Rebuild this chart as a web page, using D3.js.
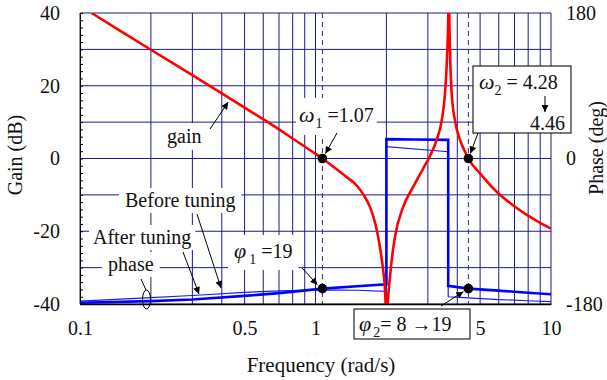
<!DOCTYPE html>
<html>
<head>
<meta charset="utf-8">
<script src="https://cdn.jsdelivr.net/npm/d3@7"></script>
<style>
  html, body { margin: 0; padding: 0; background: #fff; }
  svg { display: block; font-family: "Liberation Serif", "Times New Roman", serif; }
</style>
</head>
<body>
<svg id="chart" width="607" height="380"></svg>
<script>
// ---- Gain curve (dB) ----
const gainFreq = [0.112, 0.15, 0.2, 0.3, 0.4, 0.5, 0.6, 0.8, 1.0, 1.07, 1.187, 1.35, 1.5, 1.6, 1.703, 1.8, 1.879, 1.94, 1.973, 1.992, 2.0, 2.012, 2.072, 2.176, 2.359, 2.602, 2.869, 3.013, 3.271, 3.435, 3.548, 3.628, 3.664, 3.68, 3.70, 3.725, 3.787, 3.911, 4.108, 4.385, 4.46, 4.996, 5.973, 7.03, 8.55, 10];
const gainDb   = [40, 34.9, 29.9, 22.9, 17.9, 14.0, 10.8, 5.5, 1.3, 0, -2.2, -5.0, -7.5, -10.0, -13.3, -18.2, -24.5, -31.0, -36.2, -44, -70, -44, -32.5, -21.5, -13.25, -7.75, -2.7, -0.2, 5.1, 10.4, 18.0, 29.8, 40, 70, 40, 29.8, 18.0, 10.4, 5.1, 1.0, 0, -4.07, -9.57, -13.25, -16.9, -19.3];

// ---- Phase curves (deg) ----
const afterFreq   = [0.1, 0.2, 0.3, 0.5, 0.7, 1.07, 1.5, 2.0, 2.0, 2.6, 3.66, 3.66, 4.46, 6, 8, 10];
const afterPhase  = [-178.5, -176.5, -174.5, -170, -166.5, -161, -158, -155.5, 24, 23.5, 23, -157.5, -161, -163.5, -166, -168];
const beforeFreq  = [0.1, 0.2, 0.3, 0.5, 0.7, 1.07, 1.5, 2.0, 2.0, 3.66, 3.66, 4.28, 6, 8, 10];
const beforePhase = [-176.5, -172, -169.5, -165.5, -163.8, -162.5, -163, -164.5, 14.6, 8.4, -171, -172, -174.5, -176, -177];

// ---- Crossover points ----
const omega1 = 1.07, omega2 = 4.46;
const phi1 = 19, phi2 = 19;

// ---- Tick values ----
const freqTicks  = [0.1, 0.5, 1, 5, 10];
const gainTicks  = [-40, -20, 0, 20, 40];
const phaseTicks = [-180, 0, 180];

const FONT = '"Liberation Serif", "Times New Roman", serif';
const gridColor = "#1b1b8c";
const plot = { left: 80, right: 551, top: 13, bottom: 304 };

const svg = d3.select("#chart");
const x  = d3.scaleLog().domain([0.1, 10]).range([plot.left, plot.right]);
const yG = d3.scaleLinear().domain([-40, 40]).range([plot.bottom, plot.top]);
const yP = d3.scaleLinear().domain([-180, 180]).range([plot.bottom, plot.top]);

const defs = svg.append("defs");
defs.append("clipPath").attr("id", "plotClip")
  .append("rect")
  .attr("x", plot.left).attr("y", plot.top)
  .attr("width", plot.right - plot.left).attr("height", plot.bottom - plot.top + 1);
defs.append("marker").attr("id", "arrow")
  .attr("viewBox", "0 0 10 10").attr("refX", 10).attr("refY", 5)
  .attr("markerWidth", 10).attr("markerHeight", 7)
  .attr("markerUnits", "userSpaceOnUse").attr("orient", "auto")
  .append("path").attr("d", "M0,0L10,5L0,10Z").attr("fill", "#000");

// ---- Grid ----
const grid = svg.append("g");
grid.selectAll("line.v").data(x.ticks()).join("line").attr("class", "v")
  .attr("x1", d => x(d)).attr("x2", d => x(d))
  .attr("y1", plot.top).attr("y2", plot.bottom)
  .attr("stroke", gridColor).attr("stroke-width", 1);
grid.selectAll("line.h").data(d3.range(-40, 41, 10)).join("line").attr("class", "h")
  .attr("x1", plot.left).attr("x2", plot.right)
  .attr("y1", d => yG(d)).attr("y2", d => yG(d))
  .attr("stroke", gridColor).attr("stroke-width", 1);

// Crossover frequency markers
grid.selectAll("line.cross").data([omega1, omega2]).join("line").attr("class", "cross")
  .attr("x1", d => x(d)).attr("x2", d => x(d))
  .attr("y1", plot.top).attr("y2", plot.bottom)
  .attr("stroke", "#2a2a96").attr("stroke-width", 1).attr("stroke-dasharray", "5,4");

// ---- Text labels on white patches ----
const labelBg = svg.append("g");
const labelFg = svg.append("g");

function richText(parent, px, py, parts, size) {
  const t = parent.append("text").attr("x", px).attr("y", py)
    .attr("font-family", FONT).attr("font-size", size || 20).attr("fill", "#111");
  let shift = 0;
  parts.forEach(p => {
    const s = t.append("tspan").text(p.t);
    if (p.italic) s.attr("font-style", "italic");
    if (p.big) s.attr("font-size", p.big);
    if (p.sub) { s.attr("font-size", 14).attr("dy", 6 - shift); shift = 6; }
    else if (shift) { s.attr("dy", -shift); shift = 0; }
    if (p.dx) s.attr("dx", p.dx);
  });
  return t;
}
function patched(px, py, parts, pad) {
  const t = richText(labelFg, px, py, parts);
  const b = t.node().getBBox();
  const p = pad || [5, 2];
  labelBg.append("rect")
    .attr("x", b.x - p[0]).attr("y", b.y - p[1])
    .attr("width", b.width + 2 * p[0]).attr("height", b.height + 2 * p[1])
    .attr("fill", "#fff");
  return t;
}

patched(167, 143, [{ t: "gain" }]);
patched(125, 207, [{ t: "Before tuning" }], [6, 1]);
patched(93, 244, [{ t: "After tuning" }], [4, 1]);
patched(108, 271, [{ t: "phase" }], [6, 1]);
patched(299, 122, [{ t: "ω", italic: true, big: 22 }, { t: "1", sub: true, dx: 1 }, { t: " =1.07" }], [3, 4]);
patched(234, 258, [{ t: "φ", italic: true, big: 22 }, { t: "1", sub: true, dx: 3 }, { t: " =19" }], [6, 3]);

// ---- Curves ----
const curves = svg.append("g").attr("clip-path", "url(#plotClip)");
const gainLine = d3.line().x(d => x(d[0])).y(d => yG(d[1])).curve(d3.curveMonotoneX);
const phaseLine = d3.line().x(d => x(d[0])).y(d => yP(d[1]));

curves.append("path")
  .attr("d", phaseLine(d3.zip(beforeFreq, beforePhase)))
  .attr("fill", "none").attr("stroke", "#1a1aff").attr("stroke-width", 1.2);
curves.append("path")
  .attr("d", phaseLine(d3.zip(afterFreq, afterPhase)))
  .attr("fill", "none").attr("stroke", "#0000ff").attr("stroke-width", 2.6)
  .attr("stroke-linejoin", "miter");
curves.append("path")
  .attr("d", gainLine(d3.zip(gainFreq, gainDb)))
  .attr("fill", "none").attr("stroke", "#ff0000").attr("stroke-width", 2.6);

// ---- Axes ----
function styleAxis(g) {
  g.attr("font-family", FONT).attr("font-size", 20);
  g.selectAll("text").attr("fill", "#111");
}
const plain = d => String(d);
// left minor ticks (inward) with frame line
svg.append("g").attr("transform", `translate(${plot.left},0)`)
  .call(d3.axisLeft(yG).tickValues(d3.range(-40, 41, 2)).tickSize(-3).tickFormat(""))
  .call(g => g.selectAll("path,line").attr("stroke", "#000"));
svg.append("g").attr("transform", `translate(${plot.left},0)`)
  .call(d3.axisLeft(yG).tickValues(gainTicks).tickFormat(plain).tickSize(0).tickPadding(20))
  .call(g => g.select(".domain").remove())
  .call(styleAxis);
svg.append("g").attr("transform", `translate(0,${plot.bottom})`)
  .call(d3.axisBottom(x).tickValues(freqTicks).tickFormat(plain).tickSize(0).tickPadding(17))
  .call(g => g.select(".domain").attr("stroke", "#000").attr("stroke-width", 1.3))
  .call(styleAxis);
svg.append("g").attr("transform", `translate(${plot.right},0)`)
  .call(d3.axisRight(yP).tickValues(phaseTicks).tickFormat(plain).tickSize(0).tickPadding(15))
  .call(g => g.select(".domain").remove())
  .call(styleAxis);

// Axis titles
svg.append("text").attr("x", 321).attr("y", 372).attr("text-anchor", "middle")
  .attr("font-family", FONT).attr("font-size", 21).attr("fill", "#111")
  .text("Frequency (rad/s)");
svg.append("text").attr("transform", "translate(22,155) rotate(-90)").attr("text-anchor", "middle")
  .attr("font-family", FONT).attr("font-size", 20).attr("fill", "#111")
  .text("Gain (dB)");
svg.append("text").attr("transform", "translate(603,148) rotate(-90)").attr("text-anchor", "middle")
  .attr("font-family", FONT).attr("font-size", 20).attr("fill", "#111")
  .text("Phase (deg)");

// ---- Crossover dots ----
const dots = [[omega1, yG(0)], [omega1, yP(-180 + phi1)], [omega2, yG(0)], [omega2, yP(-180 + phi2)]];
svg.append("g").selectAll("circle").data(dots).join("circle")
  .attr("cx", d => x(d[0])).attr("cy", d => d[1]).attr("r", 4.8).attr("fill", "#000");

// ---- Boxed annotations ----
const boxes = svg.append("g");
boxes.append("rect").attr("x", 473).attr("y", 66).attr("width", 98).attr("height", 67)
  .attr("fill", "#fff").attr("stroke", "#222").attr("stroke-width", 1.2);
richText(boxes, 479, 89, [{ t: "ω", italic: true, big: 22 }, { t: "2", sub: true }, { t: " = 4.28" }]);
richText(boxes, 565, 130, [{ t: "4.46" }]).attr("text-anchor", "end");

boxes.append("rect").attr("x", 354).attr("y", 309).attr("width", 116).attr("height", 30)
  .attr("fill", "#fff").attr("stroke", "#222").attr("stroke-width", 1.2);
richText(boxes, 359, 331, [{ t: "φ", italic: true, big: 22 }, { t: "2", sub: true, dx: 2 }, { t: "= 8 " }, { t: "→" }, { t: "19" }]);

// ---- Arrows & leader lines ----
const arrows = [
  [210, 129, x(0.43) - 1, yG(16.6) + 4],
  [197, 214, 221, 288],
  [183, 252, 199, 294],
  [337, 133, x(omega1) + 3, yG(0) - 5],
  [302, 268, x(omega1) - 5, yP(-180 + phi1) - 4],
  [478, 133, x(omega2) + 2, yG(0) - 5],
  [441, 306, x(omega2) - 5, yP(-180 + phi2) + 3],
  [545, 96, 545, 112]
];
svg.append("g").selectAll("line").data(arrows).join("line")
  .attr("x1", d => d[0]).attr("y1", d => d[1]).attr("x2", d => d[2]).attr("y2", d => d[3])
  .attr("stroke", "#000").attr("stroke-width", 1).attr("marker-end", "url(#arrow)");

// "phase" leader and ellipse around the phase curves
svg.append("line").attr("x1", 141).attr("y1", 279).attr("x2", 146).attr("y2", 290)
  .attr("stroke", "#000").attr("stroke-width", 1);
svg.append("ellipse").attr("cx", 146.5).attr("cy", 299.5).attr("rx", 4).attr("ry", 9.5)
  .attr("fill", "none").attr("stroke", "#000").attr("stroke-width", 1);
</script>
</body>
</html>
